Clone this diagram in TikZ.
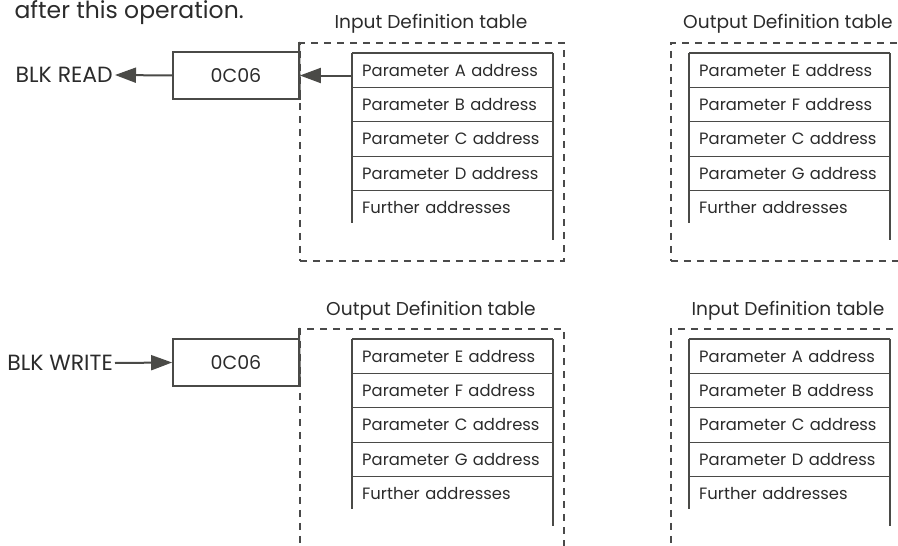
\documentclass[tikz,border=0pt]{standalone}
\usepackage{fontspec}
\setmainfont[Ligatures=NoCommon]{Poppins}
\usetikzlibrary{arrows.meta,positioning}
\definecolor{ink}{HTML}{2B2B2B}
\definecolor{rule}{HTML}{4A4A47}
\definecolor{dashgray}{HTML}{4A4A4A}

\begin{document}
\begin{tikzpicture}[x=1pt, y=-1pt,
  cell/.style={minimum width=201pt, minimum height=34.25pt, inner xsep=10pt, text width=181pt, align=left, anchor=north west, font=\fontsize{16.4}{19}\selectfont, text=ink},
  opbox/.style={draw=rule, line width=1.8pt, minimum width=126pt, minimum height=47pt, font=\fontsize{19}{22}\selectfont, text=ink},
  frame/.style={draw=dashgray, line width=1.6pt, dash pattern=on 7pt off 6pt, minimum width=264pt, anchor=north west, inner sep=0pt},
  title/.style={font=\fontsize{18.6}{22}\selectfont, text=ink, anchor=base},
  lbl/.style={font=\fontsize{22}{26}\selectfont, text=ink, inner sep=2pt},
  tabtop/.style={draw=rule, line width=2.8pt},
  tabrow/.style={draw=rule, line width=1pt},
  tabside/.style={draw=rule, line width=2pt},
  arr/.style={-{Triangle[length=21pt, width=15pt]}, line width=2pt, draw=rule},
]
  \useasboundingbox (0,0) rectangle (898,546);
  \clip (0,0) rectangle (898,546);

  \node[anchor=base west, font=\fontsize{23.5}{28}\selectfont, text=ink] (intro) at (11,18) {after this operation.};

  % block read
  \node[frame, minimum height=218pt] (rdin) at (299,42) {};
  \node[frame, minimum height=218pt] (rdout) at (670,42) {};
  \node[title] (rdintitle) at (431,28) {Input Definition table};
  \node[title] (rdouttitle) at (788,28) {Output Definition table};

  \foreach \txt [count=\i] in {Parameter A address, Parameter B address, Parameter C address, Parameter D address, Further addresses}
    \node[cell] (inA\i) at (352,{53+(\i-1)*34.25}) {\txt};
  \draw[tabtop] (inA1.north west) -- (inA1.north east);
  \foreach \i in {1,...,4}
    \draw[tabrow] (inA\i.south west) -- (inA\i.south east);
  \draw[tabside] (inA1.north west) -- ++(0,170);
  \draw[tabside] (inA1.north east) -- ++(0,187);

  \foreach \txt [count=\i] in {Parameter E address, Parameter F address, Parameter C address, Parameter G address, Further addresses}
    \node[cell] (outA\i) at (689,{53+(\i-1)*34.25}) {\txt};
  \draw[tabtop] (outA1.north west) -- (outA1.north east);
  \foreach \i in {1,...,4}
    \draw[tabrow] (outA\i.south west) -- (outA\i.south east);
  \draw[tabside] (outA1.north west) -- ++(0,170);
  \draw[tabside] (outA1.north east) -- ++(0,187);

  \node[opbox] (rdop) at (236,75.5) {0C06};
  \draw[tabside] (rdin.north west) -- (rdop.south east);
  \node[lbl, anchor=east] (blkread) at (115,75) {BLK READ};
  \draw[arr] (inA1.west |- rdop.east) -- (rdop.east);
  \draw[arr] (rdop.west) -- (blkread.east);

  % block write
  \node[frame, minimum height=240pt] (wrout) at (299,328) {};
  \node[frame, minimum height=240pt] (wrin) at (670,328) {};
  \node[title] (wrouttitle) at (431,315) {Output Definition table};
  \node[title] (wrintitle) at (788,315) {Input Definition table};

  \foreach \txt [count=\i] in {Parameter E address, Parameter F address, Parameter C address, Parameter G address, Further addresses}
    \node[cell] (outB\i) at (352,{339+(\i-1)*34.25}) {\txt};
  \draw[tabtop] (outB1.north west) -- (outB1.north east);
  \foreach \i in {1,...,4}
    \draw[tabrow] (outB\i.south west) -- (outB\i.south east);
  \draw[tabside] (outB1.north west) -- ++(0,170);
  \draw[tabside] (outB1.north east) -- ++(0,187);

  \foreach \txt [count=\i] in {Parameter A address, Parameter B address, Parameter C address, Parameter D address, Further addresses}
    \node[cell] (inB\i) at (689,{339+(\i-1)*34.25}) {\txt};
  \draw[tabtop] (inB1.north west) -- (inB1.north east);
  \foreach \i in {1,...,4}
    \draw[tabrow] (inB\i.south west) -- (inB\i.south east);
  \draw[tabside] (inB1.north west) -- ++(0,170);
  \draw[tabside] (inB1.north east) -- ++(0,187);

  \node[opbox] (wrop) at (236,362.5) {0C06};
  \draw[tabside] (wrout.north west) -- (wrop.south east);
  \node[lbl, anchor=east] (blkwrite) at (115,363) {BLK WRITE};
  \draw[arr] (blkwrite.east) -- (wrop.west);
\end{tikzpicture}
\end{document}
